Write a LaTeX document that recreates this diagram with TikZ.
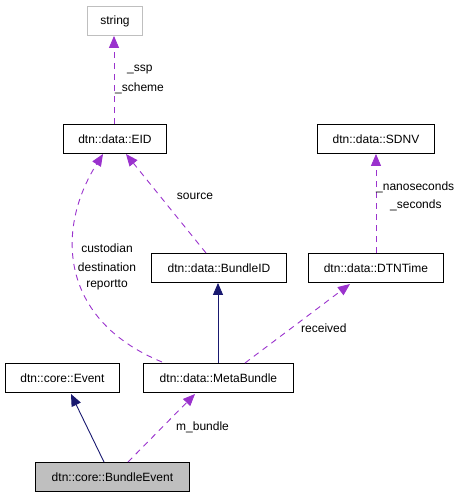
\documentclass[tikz,border=0pt]{standalone}
\usepackage{fontspec}
\setmainfont{Liberation Sans}
\usetikzlibrary{arrows.meta}
\definecolor{orchid}{HTML}{9A32CD}
\definecolor{mnblue}{HTML}{191970}
\definecolor{boxgray}{HTML}{BFBFBF}
\begin{document}
\begin{tikzpicture}[x=1pt,y=-1pt,
  cls/.style={draw=black,line width=0.9pt,minimum height=29pt,inner sep=0pt,font=\fontsize{12}{12}\selectfont,anchor=north west},
  use/.style={draw=orchid,line width=0.9pt,dash pattern=on 6pt off 5pt,-{Triangle[length=12pt,width=10pt,fill=orchid]}},
  inh/.style={draw=mnblue,line width=0.9pt,-{Triangle[length=12pt,width=10pt,fill=mnblue]}},
  lbl/.style={font=\fontsize{12}{12}\selectfont,inner sep=0pt}]
\useasboundingbox (0,0) rectangle (467,499);
\node[cls,draw=boxgray,minimum width=55pt] (str) at (87,6) {string};
\node[cls,minimum width=103pt] (eid) at (63,124) {dtn::data::EID};
\node[cls,minimum width=117pt] (sdnv) at (317,124) {dtn::data::SDNV};
\node[cls,minimum width=135pt] (bid) at (151,253) {dtn::data::BundleID};
\node[cls,minimum width=135pt] (dtnt) at (308,253) {dtn::data::DTNTime};
\node[cls,minimum width=114pt] (ev) at (5,363) {dtn::core::Event};
\node[cls,minimum width=150pt] (mb) at (143,363) {dtn::data::MetaBundle};
\node[cls,fill=boxgray,minimum width=154pt] (be) at (35,462) {dtn::core::BundleEvent};
\coordinate (c1) at (162,362);
\coordinate (eidbl) at (103,154);
\coordinate (eidbr) at (126,154);
\coordinate (dtbot) at (350,284);
\coordinate (mbbot) at (195,394);
\coordinate (evbot) at (71,394);
\draw[use] (eid.north -| 114,0) -- (str.south -| 114,0);
\draw[use] (c1) .. controls (60,320) and (55,230) .. (eidbl);
\draw[use] (bid.north -| 206,0) -- (eidbr);
\draw[use] (dtnt.north -| 376,0) -- (sdnv.south -| 376,0);
\draw[use] (mb.north -| 245,0) -- (dtbot);
\draw[use] (be.north -| 128,0) -- (mbbot);
\draw[inh] (mb.north -| 218,0) -- (bid.south -| 218,0);
\draw[inh] (be.north -| 104,0) -- (evbot);
\node[lbl,anchor=west] (l1) at (127,70) {\_ssp};
\node[lbl,anchor=west] (l2) at (115,88) {\_scheme};
\node[lbl] (l3) at (195,196) {source};
\node[lbl] (l4) at (107,248) {custodian};
\node[lbl] (l5) at (107,267) {destination};
\node[lbl] (l6) at (107,285) {reportto};
\node[lbl,anchor=west] (l7) at (376,187) {\_nanoseconds};
\node[lbl,anchor=west] (l8) at (390,205) {\_seconds};
\node[lbl,anchor=west] (l9) at (301,328) {received};
\node[lbl,anchor=west] (l10) at (176,427) {m\_bundle};
\end{tikzpicture}
\end{document}
